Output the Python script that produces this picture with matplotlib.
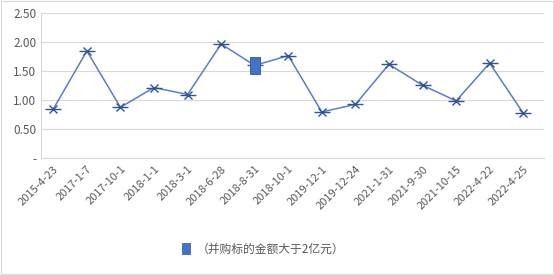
import matplotlib.pyplot as plt
from matplotlib.patches import Rectangle

plt.rcParams['font.family'] = ['Noto Sans CJK SC', 'DejaVu Sans']

dates = ["2015-4-23", "2017-1-7", "2017-10-1", "2018-1-1", "2018-3-1",
         "2018-6-28", "2018-8-31", "2018-10-1", "2019-12-1", "2019-12-24",
         "2021-1-31", "2021-9-30", "2021-10-15", "2022-4-22", "2022-4-25"]
values = [0.85, 1.85, 0.88, 1.22, 1.10, 1.97, 1.60, 1.77, 0.80, 0.93,
          1.62, 1.26, 0.99, 1.64, 0.78]
big_idx = [6]
big_vals = [1.60]
legend_label = "（并购标的金额大于2亿元）"

line_c = "#5A7EC0"
mark_c = "#2F5597"
gray = "#595959"

fig = plt.figure(figsize=(5.54, 2.75), dpi=100)
ax = fig.add_axes([0.0735, 0.424, 0.9085, 0.528])

x = list(range(len(dates)))
ax.plot(x, values, color=line_c, lw=1.1, zorder=3)
ax.plot(x, values, ls='none', marker='x', ms=6, mew=1.0, color=mark_c, zorder=4)
ax.plot(x, values, ls='none', marker='_', ms=11, mew=1.0, color=mark_c, zorder=4)
ax.bar(big_idx, [0.29], bottom=[big_vals[0] - 0.145], width=0.3,
       color="#4472C4", edgecolor="#2F5597", lw=0.6, zorder=5)

ax.set_xlim(-0.375, 14.62)
ax.set_ylim(0, 2.5)
ax.set_yticks([0, 0.5, 1.0, 1.5, 2.0, 2.5])
ax.set_yticklabels(["-", "0.50", "1.00", "1.50", "2.00", "2.50"])
ax.set_xticks(x)
ax.set_xticklabels(dates, rotation=45, ha='right', rotation_mode='anchor')
ax.tick_params(axis='both', length=0, colors=gray, labelsize=8.5, pad=3)
ax.tick_params(axis='x', labelsize=8, pad=4)
ax.grid(axis='y', color="#D9D9D9", lw=0.8)
ax.set_axisbelow(True)
for s in ['top', 'right']:
    ax.spines[s].set_visible(False)
for s in ['left', 'bottom']:
    ax.spines[s].set_color("#D9D9D9")
    ax.spines[s].set_linewidth(0.8)

h = Rectangle((0, 0), 1, 1, facecolor="#4472C4", edgecolor="#2F5597", lw=0.5)
fig.legend([h], [legend_label], loc='center', bbox_to_anchor=(0.475, 0.094),
           frameon=False, fontsize=8.5, handlelength=0.7, handleheight=1.0,
           handletextpad=0.6, labelcolor=gray)

fig.patches.append(Rectangle((0.002, 0.004), 0.996, 0.992, transform=fig.transFigure,
                             fill=False, edgecolor="#D9D9D9", lw=0.8))

fig.savefig("out.png", dpi=100)
